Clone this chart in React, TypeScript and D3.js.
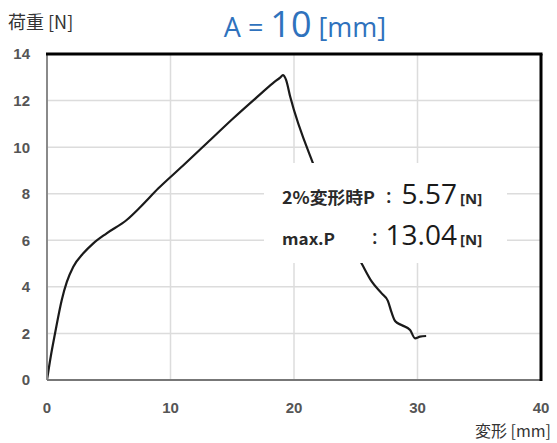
import * as d3 from "d3";
import React from "react";

// 変形 [mm] / 荷重 [N]
const deform = [0, 0.3, 0.65, 1.2, 1.6, 2.13, 2.94, 3.75, 4.83, 6.45, 7.6, 9.0, 11.0, 13.0, 15.0, 17.0, 18.3, 18.9, 19.1, 19.35, 19.7, 21.5, 23.5, 25.5, 26.3, 27.1, 27.6, 27.9, 28.2, 28.7, 29.4, 29.8, 30.2, 30.7];
const load = [0, 1.0, 2.0, 3.45, 4.2, 4.86, 5.44, 5.87, 6.3, 6.87, 7.45, 8.22, 9.2, 10.2, 11.2, 12.15, 12.75, 13.0, 13.09, 12.9, 12.15, 9.36, 7.0, 4.98, 4.22, 3.72, 3.4, 2.9, 2.52, 2.36, 2.15, 1.79, 1.86, 1.89];

const xTicks = [0, 10, 20, 30, 40];
const yTicks = [0, 2, 4, 6, 8, 10, 12, 14];

const title = { pre: "A = ", num: "10", post: " [mm]" };
const yLabel = "荷重 [N]";
const xLabel = "変形 [mm]";
const notes = [
  { label: "2%変形時P", value: "5.57", unit: "[N]" },
  { label: "max.P", value: "13.04", unit: "[N]" },
];

export default function App() {
  const W = 557;
  const H = 443;
  const m = { top: 54, right: 16, bottom: 63, left: 47 };

  const x = d3.scaleLinear().domain([0, 40]).range([m.left, W - m.right]);
  const y = d3.scaleLinear().domain([0, 14]).range([H - m.bottom, m.top]);

  const pts = deform.map((d, i) => [d, load[i]] as [number, number]);
  const line = d3
    .line<[number, number]>()
    .x((d) => x(d[0]))
    .y((d) => y(d[1]))
    .curve(d3.curveMonotoneX);

  const tickFont = "'Liberation Sans Narrow', 'Liberation Sans', Arial, sans-serif";
  const jpFont = "'Noto Sans CJK JP', 'Noto Sans', sans-serif";
  const numFont = "'Open Sans', 'Noto Sans', sans-serif";
  const blue = "#2f72bd";

  return (
    <div style={{ position: "absolute", left: 0, top: 0 }}>
      <svg width={W} height={H} style={{ display: "block", background: "#fff" }}>
        {/* grid */}
        {yTicks.slice(1, -1).map((t) => (
          <line key={`gy${t}`} x1={x(0)} x2={x(40)} y1={y(t)} y2={y(t)} stroke="#dcdcdc" strokeWidth={1.5} />
        ))}
        {xTicks.slice(1, -1).map((t) => (
          <line key={`gx${t}`} x1={x(t)} x2={x(t)} y1={y(0)} y2={y(14)} stroke="#dcdcdc" strokeWidth={1.5} />
        ))}

        {/* curve */}
        <path d={line(pts) ?? undefined} fill="none" stroke="#1a1a1a" strokeWidth={2.2} strokeLinejoin="round" />

        {/* annotation box (white, covers the curve) */}
        <rect x={264} y={163} width={243} height={100} fill="#fff" />
        {notes.map((n, i) => {
          const by = i === 0 ? 204 : 245;
          return (
            <g key={n.label}>
              <text
                x={282}
                y={by}
                fontFamily={jpFont}
                fontSize={i === 0 ? 17 : 16}
                fontWeight={700}
                fill="#2a2a2a"
                textLength={i === 0 ? 93 : 53}
                lengthAdjust="spacingAndGlyphs"
              >
                {n.label}
              </text>
              <text x={i === 0 ? 386 : 372} y={by - 1} fontFamily={numFont} fontSize={20} fontWeight={600} fill="#2a2a2a">
                :
              </text>
              <text x={457} y={by} textAnchor="end" fontFamily={numFont} fontSize={28} fill="#1a1a1a">
                {n.value}
              </text>
              <text x={460} y={by} fontFamily={numFont} fontSize={15} fontWeight={700} fill="#2a2a2a">
                {n.unit}
              </text>
            </g>
          );
        })}

        {/* frame */}
        <line x1={x(0)} x2={x(0)} y1={y(14)} y2={y(0)} stroke="#8a8a8a" strokeWidth={2} />
        <line x1={x(0)} x2={x(40)} y1={y(0)} y2={y(0)} stroke="#777" strokeWidth={2.2} />
        <line x1={x(0) - 1} x2={x(40) + 1.5} y1={y(14)} y2={y(14)} stroke="#000" strokeWidth={3} />
        <line x1={x(40)} x2={x(40)} y1={y(14)} y2={y(0) + 1} stroke="#000" strokeWidth={3} />

        {/* y ticks */}
        {yTicks.map((t) => (
          <text key={`yt${t}`} x={30} y={y(t)} dy="0.36em" textAnchor="end" fontFamily={tickFont} fontWeight="bold" fontSize={15} fill="#555">
            {t}
          </text>
        ))}
        {/* x ticks */}
        {xTicks.map((t) => (
          <text key={`xt${t}`} x={x(t)} y={y(0) + 33} textAnchor="middle" fontFamily={tickFont} fontWeight="bold" fontSize={15} fill="#555">
            {t}
          </text>
        ))}

        {/* axis titles */}
        <text x={8} y={29} fontFamily={jpFont} fontSize={18} fill="#333">
          {yLabel}
        </text>
        <text x={551} y={437} textAnchor="end" fontFamily={jpFont} fontSize={16} fill="#333">
          {xLabel}
        </text>

        {/* chart title */}
        <text x={305} y={37} textAnchor="middle" fontFamily={numFont} fontWeight={500} fill={blue}>
          <tspan fontSize={27}>{title.pre}</tspan>
          <tspan fontSize={36}>{title.num}</tspan>
          <tspan fontSize={27}>{title.post}</tspan>
        </text>
      </svg>
    </div>
  );
}
